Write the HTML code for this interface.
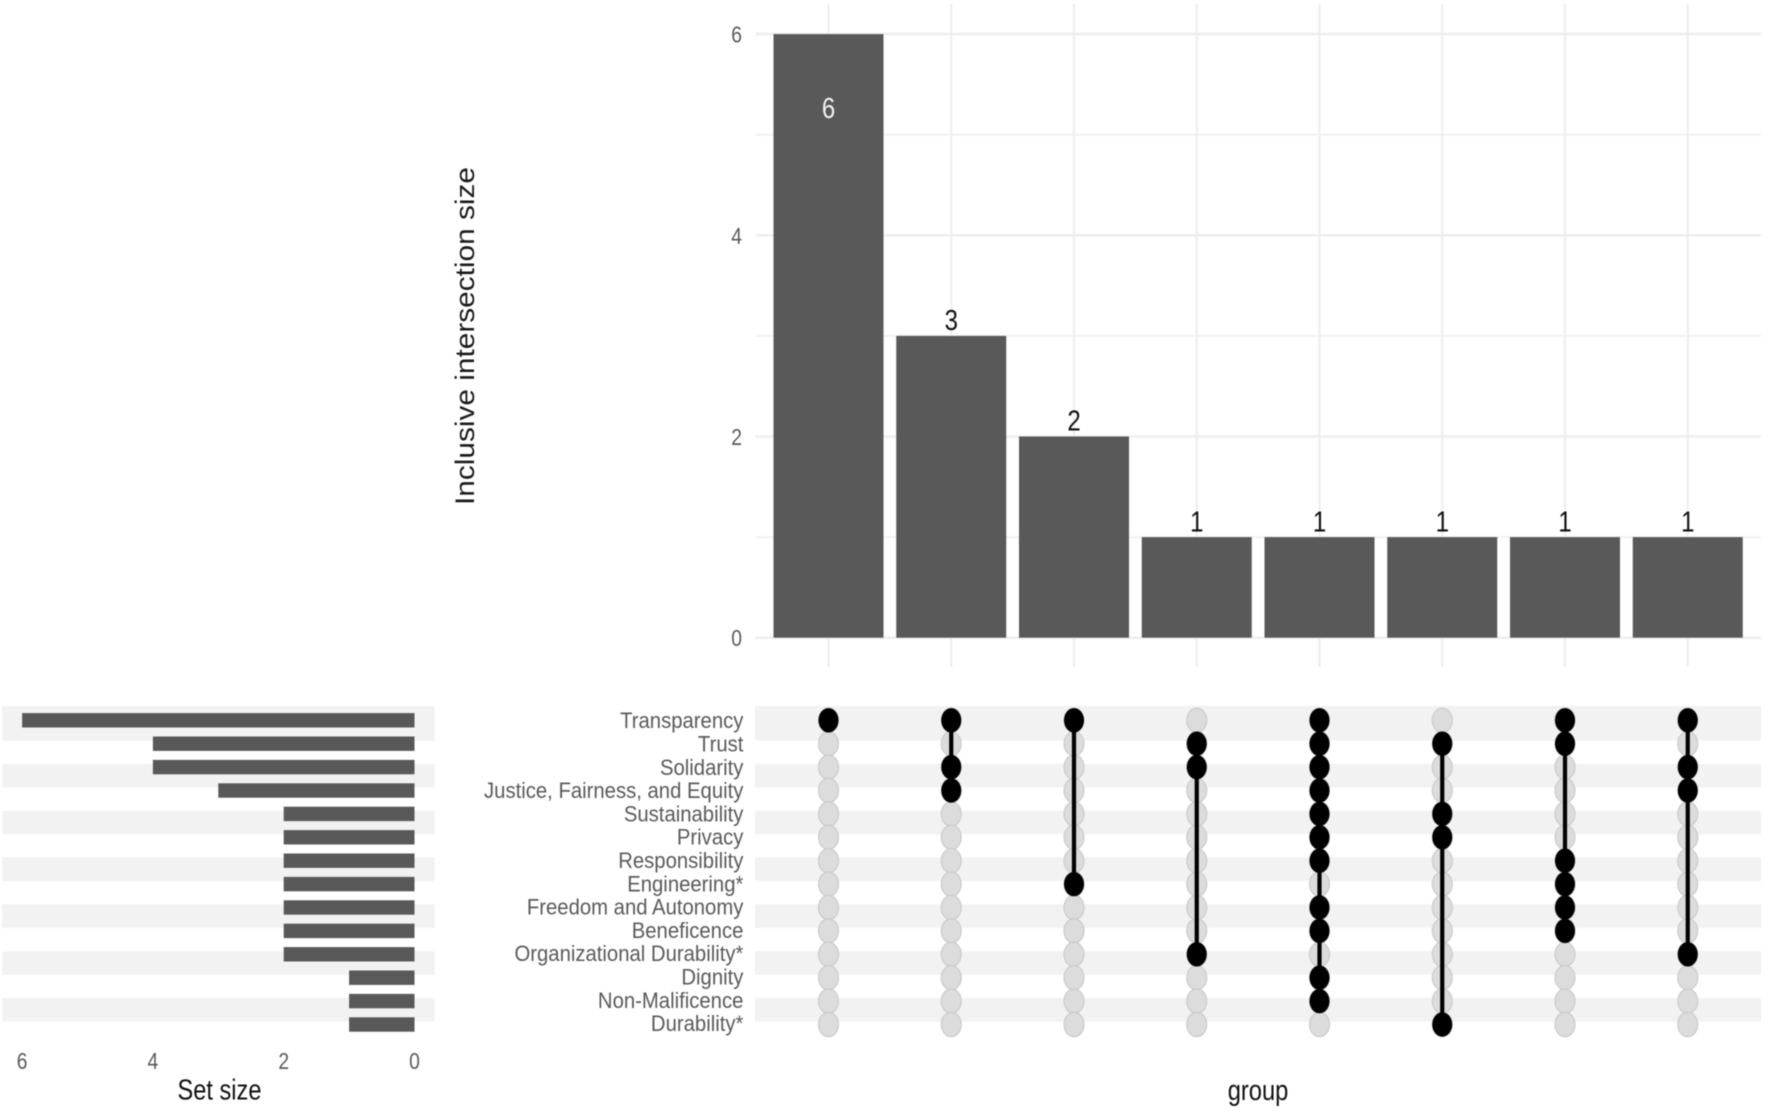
<!DOCTYPE html>
<html lang="en">
<head>
<meta charset="utf-8">
<title>UpSet plot of inclusive intersections</title>
<style>
  html, body { margin: 0; padding: 0; background: #ffffff; }
  body { width: 1772px; height: 1112px; overflow: hidden; }
  #chart { display: block; filter: blur(0.55px); }
  text { font-family: "Liberation Sans", sans-serif; }
</style>
</head>
<body>
<svg id="chart" xmlns="http://www.w3.org/2000/svg" width="1772" height="1112" viewBox="0 0 1772 1112">
  <rect x="0" y="0" width="1772" height="1112" fill="#ffffff"/>
  <g id="bands"></g>
  <g id="grid"></g>
  <g id="interBars"></g>
  <g id="interLabels"></g>
  <g id="yTicks"></g>
  <g id="setBars"></g>
  <g id="setTicks"></g>
  <g id="rowLabels"></g>
  <g id="matrix"></g>
  <text transform="translate(474,336) rotate(-90)" text-anchor="middle" font-size="27" textLength="338" lengthAdjust="spacingAndGlyphs" fill="#1a1a1a">Inclusive intersection size</text>
  <text transform="translate(219.5,1099.7) scale(1,1.2)" text-anchor="middle" font-size="23.6" fill="#111111">Set size</text>
  <text transform="translate(1258,1100) scale(1,1.2)" text-anchor="middle" font-size="23.7" fill="#111111">group</text>
</svg>
<script>
const setNames = ["Transparency", "Trust", "Solidarity", "Justice, Fairness, and Equity", "Sustainability", "Privacy", "Responsibility", "Engineering*", "Freedom and Autonomy", "Beneficence", "Organizational Durability*", "Dignity", "Non-Malificence", "Durability*"];
const setSizes = [6, 4, 4, 3, 2, 2, 2, 2, 2, 2, 2, 1, 1, 1];
const intersectionSizes = [6, 3, 2, 1, 1, 1, 1, 1];
const intersectionMembers = [
  [0],
  [0, 2, 3],
  [0, 7],
  [1, 2, 10],
  [0, 1, 2, 3, 4, 5, 6, 8, 9, 11, 12],
  [1, 4, 5, 13],
  [0, 1, 6, 7, 8, 9],
  [0, 2, 3, 10]
];
const yMajorTicks = [0, 2, 4, 6];
const yMinorTicks = [1, 3, 5];
const setSizeTicks = [0, 2, 4, 6];

const NS = "http://www.w3.org/2000/svg";

/* axis functions */
function xCol(i) { return 828.5 + 122.75 * i; }
function yInter(v) { return 637.7 - 100.6 * v; }
function yRow(i) { return 720.3 + 23.4 * i; }
function yRowLabel(i) { return 728.2 + 23.3 * i; }
function xSet(v) { return 414.5 - 65.4 * v; }

function make(tag, attrs) {
  const el = document.createElementNS(NS, tag);
  for (const k in attrs) el.setAttribute(k, attrs[k]);
  return el;
}
function label(str, x, y, size, sy, anchor, fill) {
  const t = make("text", {
    transform: "translate(" + x + "," + y + ") scale(1," + sy + ")",
    "text-anchor": anchor,
    "font-size": size,
    fill: fill
  });
  t.textContent = str;
  return t;
}

const bandsG = document.getElementById("bands");
const gridG = document.getElementById("grid");
const interBarsG = document.getElementById("interBars");
const interLabelsG = document.getElementById("interLabels");
const yTicksG = document.getElementById("yTicks");
const setBarsG = document.getElementById("setBars");
const setTicksG = document.getElementById("setTicks");
const rowLabelsG = document.getElementById("rowLabels");
const matrixG = document.getElementById("matrix");

/* alternating row bands: two panels, offset from the row centres as in the source */
setNames.forEach(function (name, i) {
  if (i % 2 !== 0) return;
  const top = i === 0 ? 706 : yRow(i) - 3.2;
  const bottom = yRow(i) + 20.4;
  [[2.3, 432.3], [755, 1006]].forEach(function (p, j) {
    const band = make("rect", { x: p[0], y: top, width: p[1], height: bottom - top, fill: "#f2f2f2" });
    
    
    bandsG.appendChild(band);
  });
});

/* gridlines */
yMinorTicks.forEach(function (v) {
  const l = make("line", { x1: 755.5, x2: 1761, y1: yInter(v), y2: yInter(v), stroke: "#f1f1f1", "stroke-width": 2 });
  
  
  gridG.appendChild(l);
});
yMajorTicks.forEach(function (v) {
  const l = make("line", { x1: 755.5, x2: 1761, y1: yInter(v), y2: yInter(v), stroke: "#eeeeee", "stroke-width": 2.6 });
  
  
  gridG.appendChild(l);
});
intersectionSizes.forEach(function (v, i) {
  const l = make("line", { x1: xCol(i), x2: xCol(i), y1: 4, y2: 667, stroke: "#eeeeee", "stroke-width": 2.2 });
  
  
  gridG.appendChild(l);
});

/* intersection bars and labels */
intersectionSizes.forEach(function (v, i) {
  const bar = make("rect", { x: xCol(i) - 55, y: yInter(v), width: 110, height: yInter(0) - yInter(v), fill: "#595959" });
  
  
  interBarsG.appendChild(bar);

  const inside = v === Math.max.apply(null, intersectionSizes);
  const ly = inside ? yInter(v) + 84 : yInter(v) - 5.8;
  const txt = label(String(v), xCol(i), ly, 24, 1.2, "middle", inside ? "#f2f2f2" : "#111111");
  
  
  interLabelsG.appendChild(txt);
});

/* y axis ticks of intersection chart */
yMajorTicks.forEach(function (v) {
  const t = label(String(v), 742, yInter(v) + 8.5, 19.3, 1.18, "end", "#5a5a5a");
  
  
  yTicksG.appendChild(t);
});

/* set size bars */
setSizes.forEach(function (v, i) {
  const bar = make("rect", { x: xSet(v), y: yRow(i) - 7.2, width: xSet(0) - xSet(v), height: 14.4, fill: "#595959" });
  
  
  setBarsG.appendChild(bar);
});

/* set size axis ticks */
setSizeTicks.forEach(function (v) {
  const t = label(String(v), xSet(v), 1069, 19.3, 1.18, "middle", "#5a5a5a");
  
  
  setTicksG.appendChild(t);
});

/* row labels */
setNames.forEach(function (name, i) {
  const t = label(name, 743.4, yRowLabel(i), 20.3, 1.1, "end", "#5a5a5a");
  
  
  rowLabelsG.appendChild(t);
});

/* membership matrix */
intersectionMembers.forEach(function (members, c) {
  setNames.forEach(function (name, r) {
    const dot = make("ellipse", { cx: xCol(c), cy: yRow(r), rx: 10, ry: 12.2, fill: "#dcdcdc", stroke: "#c9c9c9", "stroke-width": 1.1 });
    
    
    matrixG.appendChild(dot);
  });
});
intersectionMembers.forEach(function (members, c) {
  const first = Math.min.apply(null, members);
  const last = Math.max.apply(null, members);
  if (last > first) {
    const link = make("line", { x1: xCol(c), x2: xCol(c), y1: yRow(first), y2: yRow(last), stroke: "#000000", "stroke-width": 4.2 });
    
    
    matrixG.appendChild(link);
  }
  members.forEach(function (r) {
    const dot = make("ellipse", { cx: xCol(c), cy: yRow(r), rx: 10, ry: 12.2, fill: "#000000" });
    
    
    matrixG.appendChild(dot);
  });
});
</script>
</body>
</html>
